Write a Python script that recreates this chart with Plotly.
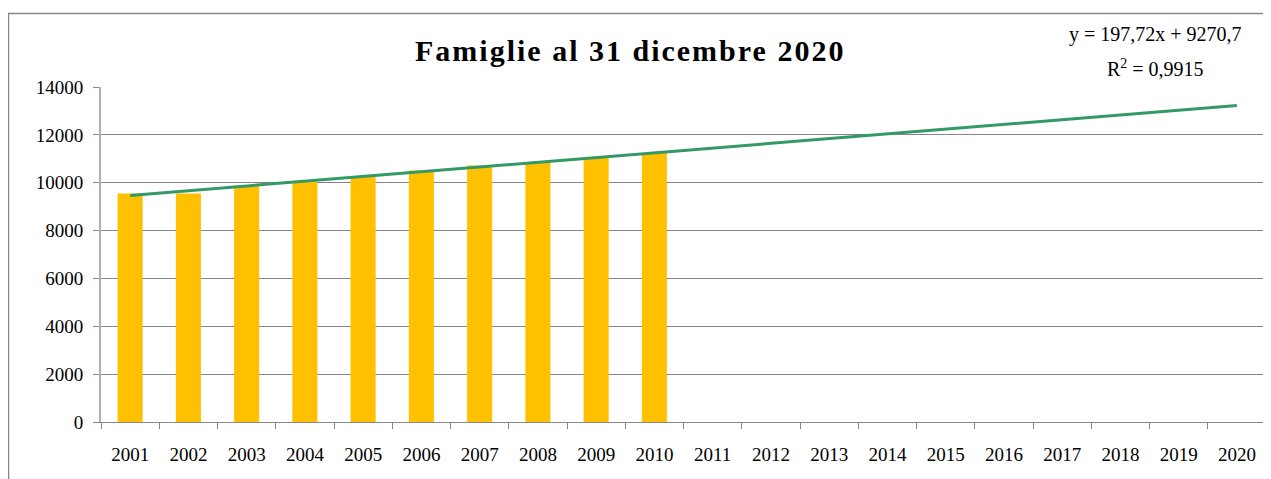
import plotly.graph_objects as go

years = [str(y) for y in range(2001, 2021)]
famiglie = [9550, 9550, 9880, 10050, 10260, 10510, 10720, 10860, 11070, 11240]
slope = 197.72
intercept = 9270.7
equation_text = "y = 197,72x + 9270,7"
r2_text = "R<sup>2</sup> = 0,9915"
title_text = "Famiglie al 31 dicembre 2020"
y_ticks = [0, 2000, 4000, 6000, 8000, 10000, 12000, 14000]

trend = [slope * (i + 1) + intercept for i in range(len(years))]

# page body has an 8px margin; work in window pixels and convert
OFF = 8
W, H = 1263, 471
ml, mr, mt, mb = 101 - OFF, 5, 87 - OFF, H - (422 - OFF)
SERIF = "Liberation Serif, Times New Roman, serif"

fig = go.Figure()
fig.add_trace(go.Bar(x=years[:len(famiglie)], y=famiglie, marker_color="#FFC000",
                     marker_line_width=0, showlegend=False))
fig.add_trace(go.Scatter(x=years, y=trend, mode="lines",
                         line=dict(color="#339966", width=3), showlegend=False))

pw = W - ml - mr
ph = H - mt - mb
def px_x(p):
    return (p - OFF - ml) / pw
def px_y(p):
    return (H - mb - (p - OFF)) / ph

fig.update_layout(
    width=W, height=H,
    margin=dict(l=ml, r=mr, t=mt, b=mb),
    paper_bgcolor="white", plot_bgcolor="white",
    bargap=0.57,
    font=dict(family=SERIF, size=19, color="#000000"),
    xaxis=dict(type="category", categoryorder="array", categoryarray=years,
               range=[-0.5, len(years) - 0.5],
               showline=True, linecolor="#888888", linewidth=1,
               ticks="outside", tickson="boundaries", ticklen=6, tickcolor="#888888",
               ticklabelstandoff=15,
               showgrid=False, tickfont=dict(size=19, family=SERIF, color="#000000")),
    yaxis=dict(range=[0, 14000], tickvals=y_ticks, ticktext=[str(v) for v in y_ticks],
               showline=True, linecolor="#b0b0b0", linewidth=2,
               ticks="outside", ticklen=6, tickcolor="#888888",
               ticklabelstandoff=6,
               showgrid=True, gridcolor="#868686", gridwidth=1,
               zeroline=False, tickfont=dict(size=19, family=SERIF, color="#000000")),
    shapes=[dict(type="rect", xref="paper", yref="paper",
                 x0=px_x(8.5), x1=px_x(1300), y0=px_y(520), y1=px_y(13.5),
                 line=dict(color="#888888", width=1.5), fillcolor="rgba(0,0,0,0)", layer="below")],
    annotations=[
        dict(text='<span style="letter-spacing:2px">' + title_text + '</span>',
             xref="paper", yref="paper", x=px_x(630), y=px_y(50),
             xanchor="center", yanchor="middle", showarrow=False,
             font=dict(family=SERIF, size=30, color="#000000", weight="bold")),
        dict(text=equation_text, xref="paper", yref="paper", x=px_x(1155), y=px_y(34),
             xanchor="center", yanchor="middle", showarrow=False,
             font=dict(family=SERIF, size=20, color="#000000")),
        dict(text=r2_text, xref="paper", yref="paper", x=px_x(1155), y=px_y(68),
             xanchor="center", yanchor="middle", showarrow=False,
             font=dict(family=SERIF, size=20, color="#000000")),
    ],
)

fig.write_html("out.html")
